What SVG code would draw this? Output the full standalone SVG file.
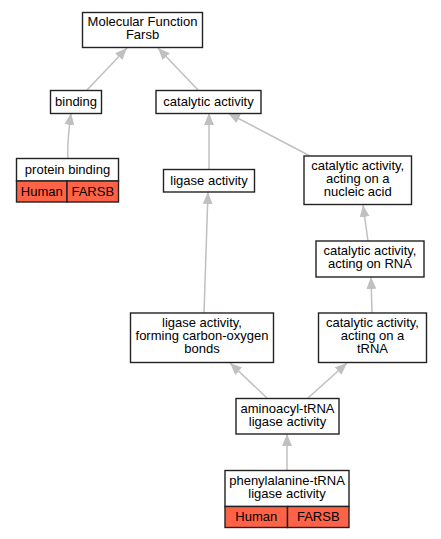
<svg xmlns="http://www.w3.org/2000/svg" width="441" height="539" viewBox="0 0 441 539">
<style>
.box{fill:#fff;stroke:#222;stroke-width:1.4}
.org{fill:#ff6347;stroke:#222;stroke-width:1.4}
.t{font-family:"Liberation Sans",Arial,sans-serif;font-size:13px;fill:#000;text-anchor:middle}
.e{fill:none;stroke:#c0c0c0;stroke-width:1.5}
</style>
<defs>
<marker id="ah" markerUnits="userSpaceOnUse" markerWidth="13" markerHeight="11" refX="12" refY="5" orient="auto">
<path d="M0,0 L12,5 L0,10 Z" fill="#c0c0c0"/>
</marker>
</defs>
<rect width="441" height="539" fill="#fff"/>
<g id="connectors">
<path class="e" marker-end="url(#ah)" d="M87,90 L127,48"/>
<path class="e" marker-end="url(#ah)" d="M198,90 L158,48"/>
<path class="e" marker-end="url(#ah)" d="M68,158 C67,145 69,128 71,113"/>
<path class="e" marker-end="url(#ah)" d="M209,169 L209,113"/>
<path class="e" marker-end="url(#ah)" d="M310,156 L228,113"/>
<path class="e" marker-end="url(#ah)" d="M368,241 L363,205"/>
<path class="e" marker-end="url(#ah)" d="M372,313 L371,277"/>
<path class="e" marker-end="url(#ah)" d="M204,313 L208,192"/>
<path class="e" marker-end="url(#ah)" d="M267,398 L230,363"/>
<path class="e" marker-end="url(#ah)" d="M308,398 L347,363"/>
<path class="e" marker-end="url(#ah)" d="M287,470 L287,434"/>
</g>
<g id="mf">
<rect class="box" x="82.5" y="12.5" width="120" height="35"/>
<text class="t" x="142.5" y="26">Molecular Function</text>
<text class="t" x="142.5" y="39">Farsb</text>
</g>
<g id="binding">
<rect class="box" x="50.5" y="90.5" width="51" height="23"/>
<text class="t" x="76" y="106">binding</text>
</g>
<g id="catalytic">
<rect class="box" x="156" y="90.5" width="105" height="23"/>
<text class="t" x="208.5" y="106">catalytic activity</text>
</g>
<g id="protein-binding">
<rect class="box" x="16.5" y="158.5" width="102" height="22.5"/>
<rect class="org" x="16.5" y="181" width="50.5" height="21"/>
<rect class="org" x="67" y="181" width="51.5" height="21"/>
<text class="t" x="67.5" y="174">protein binding</text>
<text class="t" x="41.75" y="196">Human</text>
<text class="t" x="92.75" y="196">FARSB</text>
</g>
<g id="ligase">
<rect class="box" x="163.5" y="169.5" width="91" height="22.5"/>
<text class="t" x="209" y="185">ligase activity</text>
</g>
<g id="nucleic">
<rect class="box" x="304" y="156" width="107.5" height="48.5"/>
<text class="t" x="357.75" y="170">catalytic activity,</text>
<text class="t" x="357.75" y="183">acting on a</text>
<text class="t" x="357.75" y="196">nucleic acid</text>
</g>
<g id="rna">
<rect class="box" x="316" y="241" width="108" height="36"/>
<text class="t" x="370" y="255">catalytic activity,</text>
<text class="t" x="370" y="268">acting on RNA</text>
</g>
<g id="carbon-oxygen">
<rect class="box" x="130.5" y="313" width="143" height="49.5"/>
<text class="t" x="202" y="327">ligase activity,</text>
<text class="t" x="202" y="340">forming carbon-oxygen</text>
<text class="t" x="202" y="353">bonds</text>
</g>
<g id="trna">
<rect class="box" x="318.5" y="313" width="108" height="49.5"/>
<text class="t" x="372.5" y="327">catalytic activity,</text>
<text class="t" x="372.5" y="340">acting on a</text>
<text class="t" x="372.5" y="353">tRNA</text>
</g>
<g id="aminoacyl">
<rect class="box" x="236" y="398.5" width="103" height="35.5"/>
<text class="t" x="287.5" y="413">aminoacyl-tRNA</text>
<text class="t" x="287.5" y="426">ligase activity</text>
</g>
<g id="phenylalanine">
<rect class="box" x="225" y="470.5" width="124" height="36"/>
<rect class="org" x="225" y="506.5" width="62.5" height="21"/>
<rect class="org" x="287.5" y="506.5" width="61.5" height="21"/>
<text class="t" x="287" y="485">phenylalanine-tRNA</text>
<text class="t" x="287" y="498">ligase activity</text>
<text class="t" x="256.25" y="521">Human</text>
<text class="t" x="318.25" y="521">FARSB</text>
</g>
</svg>
